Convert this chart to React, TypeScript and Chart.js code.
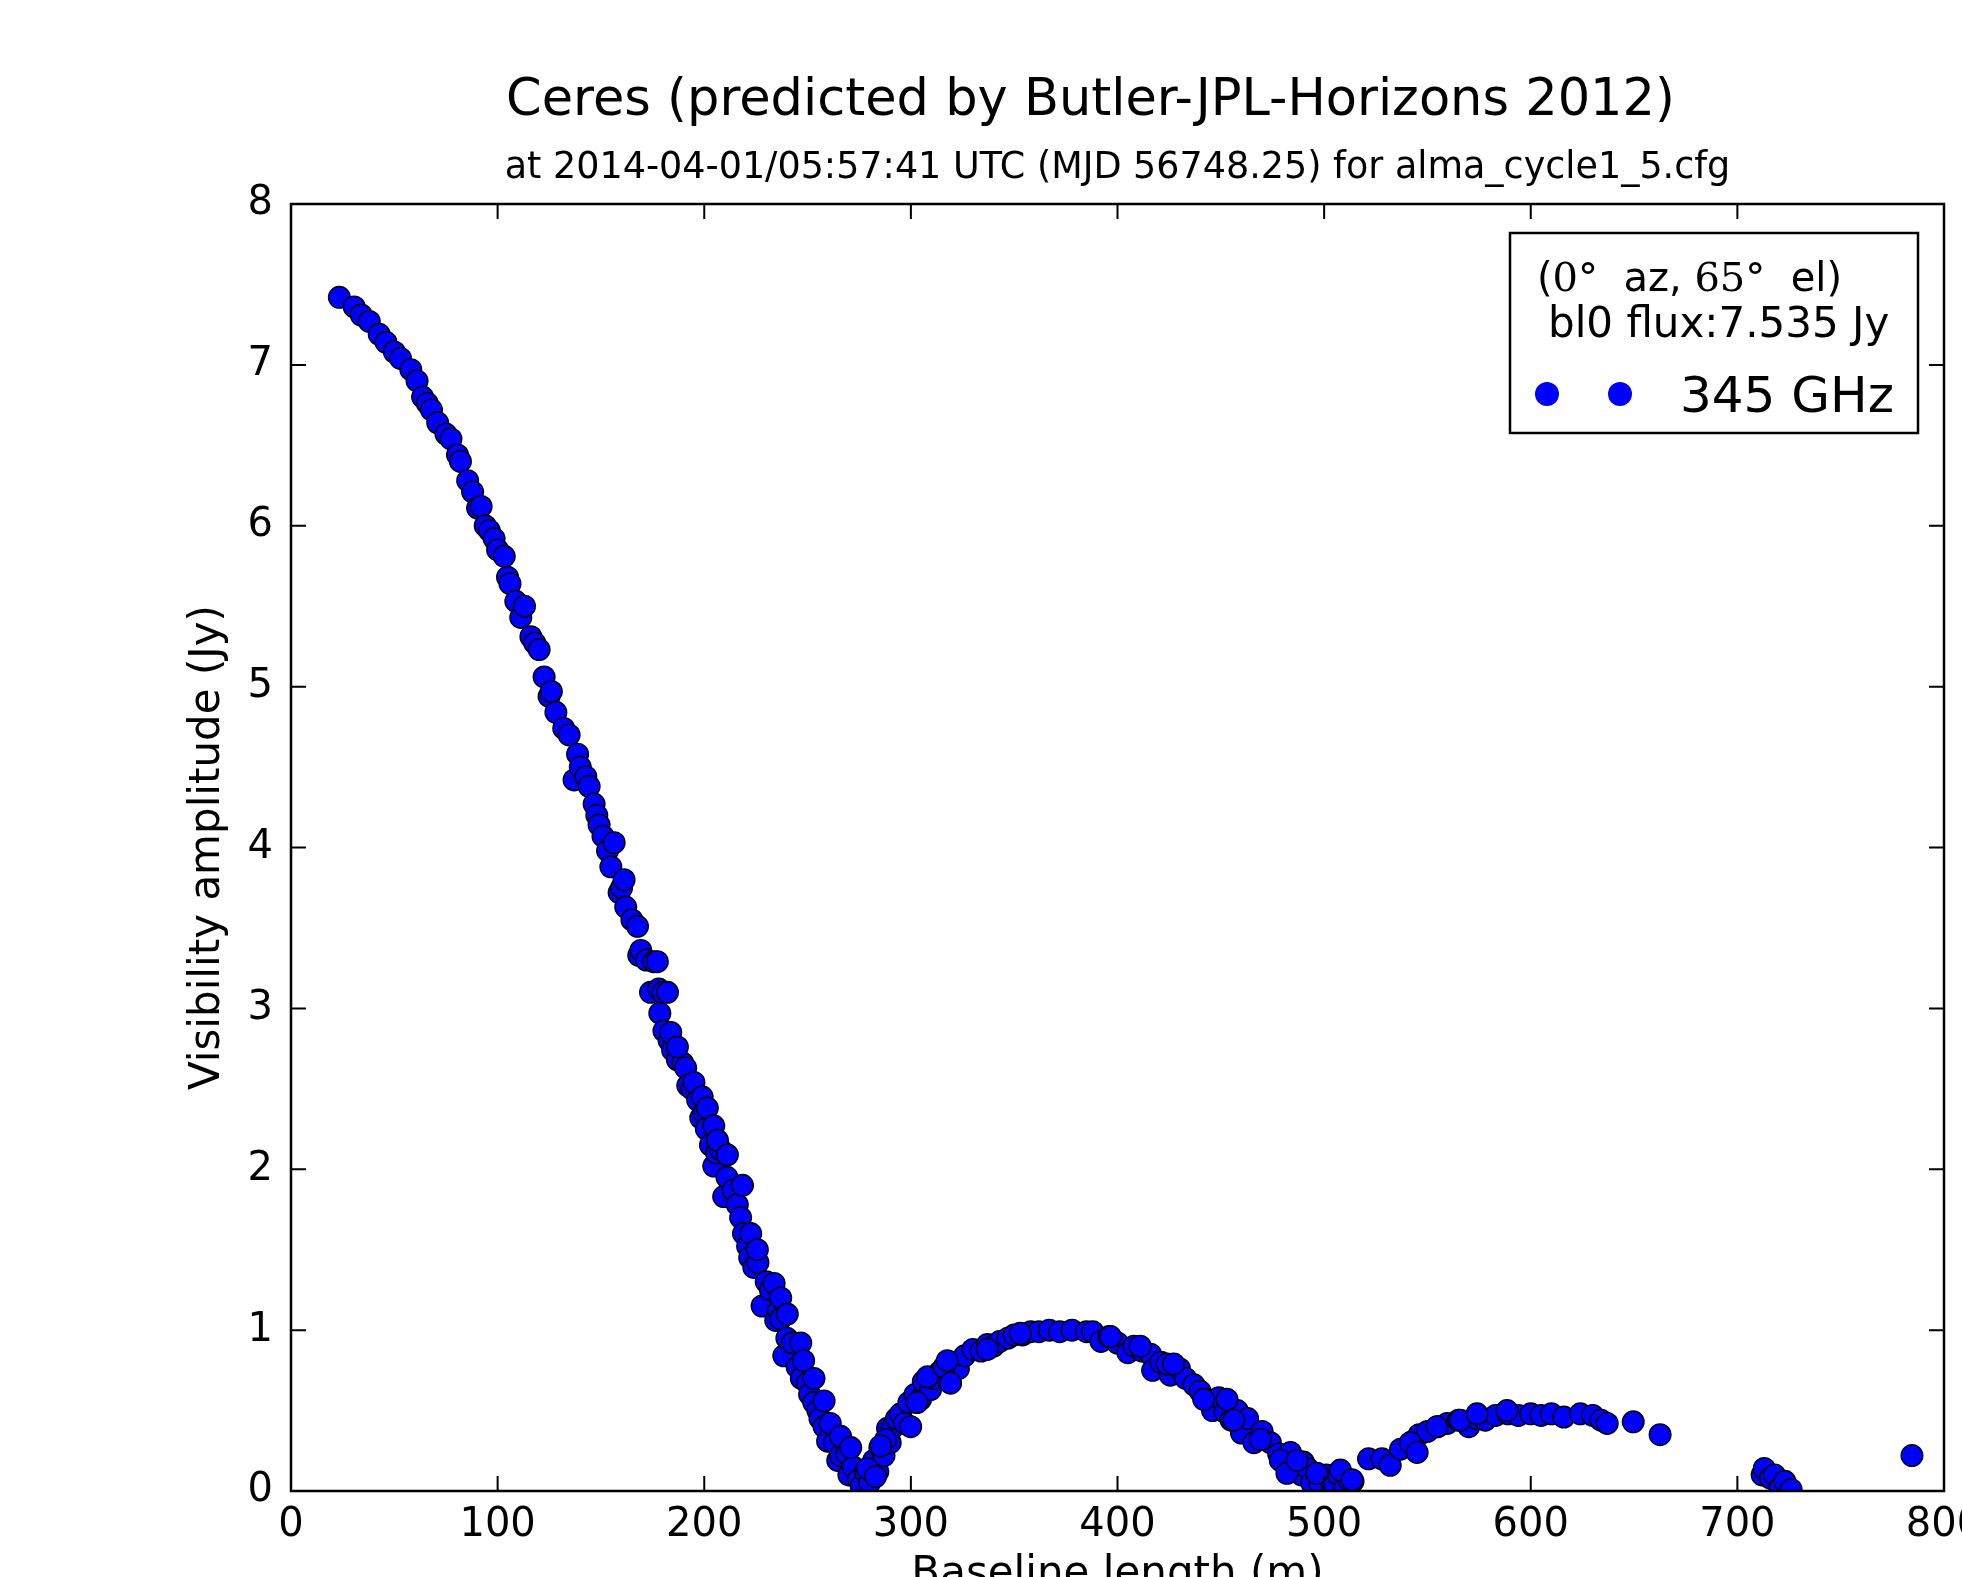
import React, { useEffect, useRef } from "react";
import { Chart, registerables } from "chart.js";

Chart.register(...registerables);

// ---------------- data ----------------
// main track readings (baseline m, amplitude Jy)
const baselines: number[] = [
  23.4, 30.6, 34, 37.9, 42.7, 46, 50, 53, 58, 61, 63.7, 66, 68, 71, 75, 77.4, 80.6, 82, 85.5, 87.9,
  90.3, 92, 94, 96, 98.3, 100, 103.2, 104.8, 106, 108.8, 111.2, 113, 116.1, 118, 120.1, 122.5, 124.9, 126, 128.2, 132,
  134.6, 137, 138.7, 140, 142.7, 144.3, 146.7, 148, 149.1, 151, 153.2, 154.8, 156.4, 158.8, 160, 161.2, 162, 165, 167.7, 168.3,
  169.3, 172, 174, 175.6, 178, 178.5, 180, 180.5, 183, 184.7, 187, 189.6, 191, 192, 194, 196.8, 198.3, 200, 201, 203,
  204.6, 206, 208, 209.4, 211, 214, 216, 217.6, 219, 221, 222, 224, 226, 228, 230, 232, 234.6, 236, 237, 238.5,
  240, 242.8, 245, 247, 250, 251, 253, 255, 256, 258, 259.7, 261, 263, 264.6, 266, 269, 270, 272, 274.7, 276,
  278, 280, 282, 284, 285, 287, 288.7, 290, 291, 293, 295, 297, 299, 302, 304.7, 306, 309.5, 311, 314, 317,
  320, 323, 326, 330, 334, 337, 340, 343, 347, 350, 354, 358, 362, 367, 372, 378, 385, 388, 392, 396,
  400, 405, 408, 412, 416, 417, 421, 425.6, 430, 433, 437, 440, 443, 446, 449, 452, 455, 458, 460, 463,
  466, 470, 474, 478, 480, 483.7, 486, 489, 490, 492, 494, 498, 501, 504, 507, 510, 512, 514, 521.5, 528,
  532, 537, 543, 546, 550, 555, 559.6, 565, 570, 574, 578, 583, 589, 594, 600, 605, 610, 616, 624, 630,
  634, 637, 649.6, 662.6, 712, 713, 716, 718, 720.7, 723, 726, 784.5,
  // band-edge readings
  177.3, 182.2, 183.8, 187, 195, 199, 201.5, 204.6, 206.4, 211.2, 218.5, 222.5, 225.7, 233.8, 237, 240.2, 246.7, 248.1, 253.1, 258,
  266, 270.9, 278.9, 282.9, 287.8, 285.4, 299.9, 303, 308, 316, 319.2, 317.6, 337, 353, 396.6, 411, 424, 427.2, 441.7, 453,
  456.3, 469.2, 478.8, 482, 486.9, 496.5, 507.9, 513.5, 541.7, 545, 554.6, 565.9, 574, 588.5,
];
const amplitudes: number[] = [
  7.42, 7.36, 7.31, 7.27, 7.19, 7.14, 7.08, 7.04, 6.97, 6.9, 6.8, 6.76, 6.72, 6.64, 6.57, 6.54, 6.44, 6.4, 6.28, 6.21,
  6.11, 6.12, 6.0, 5.97, 5.92, 5.85, 5.81, 5.68, 5.64, 5.53, 5.43, 5.5, 5.31, 5.27, 5.23, 5.06, 4.94, 4.97, 4.84, 4.74,
  4.7, 4.42, 4.58, 4.5, 4.44, 4.38, 4.27, 4.2, 4.14, 4.07, 3.98, 3.88, 4.03, 3.72, 3.75, 3.8, 3.63, 3.55, 3.51, 3.33,
  3.36, 3.3, 3.1, 3.29, 3.12, 2.97, 3.1, 2.86, 2.8, 2.74, 2.68, 2.66, 2.63, 2.52, 2.5, 2.43, 2.32, 2.35, 2.25, 2.15,
  2.02, 2.1, 2.12, 1.83, 1.95, 1.87, 1.78, 1.7, 1.6, 1.52, 1.45, 1.39, 1.42, 1.15, 1.3, 1.25, 1.06, 1.12, 1.07, 0.84,
  0.95, 0.92, 0.77, 0.7, 0.67, 0.6, 0.55, 0.5, 0.45, 0.4, 0.31, 0.42, 0.3, 0.19, 0.22, 0.23, 0.1, 0.15, 0.07, 0.03,
  0.12, 0.05, 0.19, 0.12, 0.27, 0.22, 0.39, 0.3, 0.39, 0.45, 0.48, 0.42, 0.55, 0.6, 0.57, 0.68, 0.63, 0.7, 0.74, 0.71,
  0.8, 0.76, 0.84, 0.88, 0.87, 0.91, 0.9, 0.93, 0.95, 0.97, 0.97, 0.99, 0.99, 1.0, 0.99, 1.0, 0.99, 0.99, 0.93, 0.96,
  0.92, 0.86, 0.9, 0.87, 0.85, 0.75, 0.8, 0.72, 0.76, 0.7, 0.66, 0.62, 0.57, 0.5, 0.58, 0.49, 0.44, 0.5, 0.36, 0.45,
  0.3, 0.37, 0.3, 0.23, 0.18, 0.24, 0.12, 0.1, 0.18, 0.14, 0.05, 0.04, 0.1, 0.04, 0.1, 0.02, 0.07, 0.06, 0.2, 0.2,
  0.16, 0.26, 0.31, 0.35, 0.37, 0.4, 0.42, 0.44, 0.4, 0.45, 0.44, 0.47, 0.48, 0.47, 0.48, 0.47, 0.48, 0.46, 0.48, 0.47,
  0.44, 0.42, 0.43, 0.35, 0.1, 0.14, 0.08, 0.1, 0.02, 0.06, 0.01, 0.22,
  // band-edge readings
  3.29, 3.1, 2.85, 2.76, 2.54, 2.45, 2.38, 2.27, 2.18, 2.09, 1.9, 1.6, 1.5, 1.29, 1.2, 1.1, 0.92, 0.81, 0.7, 0.56,
  0.34, 0.27, 0.14, 0.09, 0.32, 0.28, 0.4, 0.55, 0.71, 0.77, 0.67, 0.81, 0.88, 0.98, 0.96, 0.9, 0.79, 0.79, 0.57, 0.57,
  0.44, 0.32, 0.19, 0.11, 0.19, 0.11, 0.13, 0.07, 0.3, 0.24, 0.4, 0.44, 0.48, 0.5,
];

const xTickValues: number[] = [0, 100, 200, 300, 400, 500, 600, 700, 800];
const yTickValues: number[] = [0, 1, 2, 3, 4, 5, 6, 7, 8];

const titleText = "Ceres (predicted by Butler-JPL-Horizons 2012)";
const subtitleText = "at 2014-04-01/05:57:41 UTC (MJD 56748.25) for alma_cycle1_5.cfg";
const xAxisLabel = "Baseline length (m)";
const yAxisLabel = "Visibility amplitude (Jy)";
const legendLine1: { text: string; serif: boolean }[] = [
  { text: "(", serif: false },
  { text: "0°", serif: true },
  { text: "  az, ", serif: false },
  { text: "65°", serif: true },
  { text: "  el)", serif: false },
];
const legendLine2 = "bl0 flux:7.535 Jy";
const seriesLabel = "345 GHz";

// ---------------- style ----------------
const SANS = '"DejaVu Sans", sans-serif';
const SERIF = '"DejaVu Serif", serif';
const W = 1962;
const H = 1577;
const MARKER_BLUE = "#0000ff";

const decorPlugin = {
  id: "decor",
  afterDatasetsDraw(chart: any) {
    const { ctx, chartArea: a, scales } = chart;
    const xs = scales.x;
    const ys = scales.y;
    const T = 15;
    ctx.save();
    ctx.strokeStyle = "#000";
    ctx.lineWidth = 2;
    ctx.beginPath();
    for (const v of xTickValues) {
      const px = xs.getPixelForValue(v);
      ctx.moveTo(px, a.bottom);
      ctx.lineTo(px, a.bottom - T);
      ctx.moveTo(px, a.top);
      ctx.lineTo(px, a.top + T);
    }
    for (const v of yTickValues) {
      const py = ys.getPixelForValue(v);
      ctx.moveTo(a.left, py);
      ctx.lineTo(a.left + T, py);
      ctx.moveTo(a.right, py);
      ctx.lineTo(a.right - T, py);
    }
    ctx.stroke();
    ctx.lineWidth = 2.5;
    ctx.strokeRect(a.left, a.top, a.right - a.left, a.bottom - a.top);
    ctx.restore();
  },
  afterDraw(chart: any) {
    const { ctx, chartArea: a } = chart;
    const cx = (a.left + a.right) / 2;
    const cy = (a.top + a.bottom) / 2;
    ctx.save();
    ctx.fillStyle = "#000";
    ctx.textBaseline = "alphabetic";

    // titles
    ctx.textAlign = "center";
    ctx.font = `51px ${SANS}`;
    ctx.fillText(titleText, cx - 27, a.top - 89);
    ctx.font = `36.5px ${SANS}`;
    ctx.fillText(subtitleText, cx, a.top - 26);

    // axis labels
    ctx.font = `42px ${SANS}`;
    ctx.fillText(xAxisLabel, cx, a.bottom + 95);
    ctx.save();
    ctx.translate(a.left - 72, cy);
    ctx.rotate(-Math.PI / 2);
    ctx.fillText(yAxisLabel, 0, 0);
    ctx.restore();

    // legend box
    const bx = a.right - 434;
    const by = a.top + 29;
    const bw = 408;
    const bh = 200;
    ctx.fillStyle = "#fff";
    ctx.fillRect(bx, by, bw, bh);
    ctx.strokeStyle = "#000";
    ctx.lineWidth = 2.5;
    ctx.strokeRect(bx, by, bw, bh);

    ctx.fillStyle = "#000";
    ctx.textAlign = "left";
    let tx = bx + 27;
    for (const piece of legendLine1) {
      ctx.font = `40px ${piece.serif ? SERIF : SANS}`;
      ctx.fillText(piece.text, tx, by + 58);
      tx += ctx.measureText(piece.text).width;
    }
    ctx.font = `42px ${SANS}`;
    ctx.fillText(legendLine2, bx + 38, by + 104);

    ctx.fillStyle = MARKER_BLUE;
    for (const mx of [bx + 37, bx + 110]) {
      ctx.beginPath();
      ctx.arc(mx, by + 161, 12, 0, Math.PI * 2);
      ctx.fill();
    }
    ctx.fillStyle = "#000";
    ctx.font = `50px ${SANS}`;
    ctx.fillText(seriesLabel, bx + 170, by + 179);
    ctx.restore();
  },
};

export default function App() {
  const canvasRef = useRef<HTMLCanvasElement | null>(null);

  useEffect(() => {
    const canvas = canvasRef.current;
    if (!canvas) return;
    const points = baselines.map((b, i) => ({ x: b, y: amplitudes[i] }));
    const tickFont = { family: SANS, size: 40 };
    const chart = new Chart(canvas, {
      type: "scatter",
      data: {
        datasets: [
          {
            label: seriesLabel,
            data: points,
            backgroundColor: MARKER_BLUE,
            borderColor: "#000",
            pointRadius: 10.8,
            pointBorderWidth: 1.4,
            pointHoverRadius: 10.8,
            clip: 0,
          } as any,
        ],
      },
      options: {
        animation: false,
        responsive: false,
        devicePixelRatio: 1,
        events: [],
        layout: {
          autoPadding: false,
          padding: { left: 0, right: 18, top: 204, bottom: 0 },
        } as any,
        plugins: {
          legend: { display: false },
          title: { display: false },
          tooltip: { enabled: false },
        },
        scales: {
          x: {
            type: "linear",
            min: 0,
            max: 800,
            grid: { display: false, drawTicks: false },
            border: { display: false },
            ticks: {
              color: "#000",
              font: tickFont,
              padding: 11,
              maxRotation: 0,
              autoSkip: false,
            },
            afterBuildTicks: (s: any) => {
              s.ticks = xTickValues.map((v) => ({ value: v }));
            },
            afterFit: (s: any) => {
              s.height = 86;
              s.paddingLeft = 0;
              s.paddingRight = 0;
            },
          },
          y: {
            type: "linear",
            min: 0,
            max: 8,
            grid: { display: false, drawTicks: false },
            border: { display: false },
            ticks: {
              color: "#000",
              font: tickFont,
              padding: 18,
              autoSkip: false,
            },
            afterBuildTicks: (s: any) => {
              s.ticks = yTickValues.map((v) => ({ value: v }));
            },
            afterFit: (s: any) => {
              s.width = 291;
              s.paddingTop = 0;
              s.paddingBottom = 0;
            },
          },
        },
      } as any,
      plugins: [decorPlugin],
    });
    return () => chart.destroy();
  }, []);

  return (
    <div style={{ position: "absolute", left: 0, top: 0, width: W, height: H, background: "#fff" }}>
      <canvas ref={canvasRef} width={W} height={H} style={{ display: "block", width: W, height: H }} />
    </div>
  );
}
